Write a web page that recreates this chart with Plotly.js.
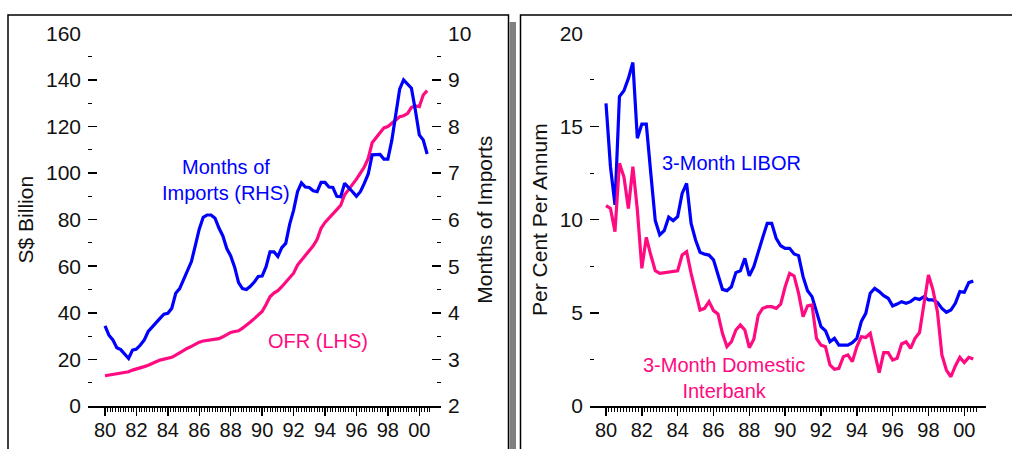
<!DOCTYPE html>
<html>
<head>
<meta charset="utf-8">
<script src="https://cdn.plot.ly/plotly-3.0.1.min.js"></script>
<style>
  html, body { margin: 0; padding: 0; background: #ffffff; }
  #chart { width: 1012px; height: 449px; }
</style>
</head>
<body>
<div id="chart"></div>
<script>
// ---- Data (quarterly) ----
const periods = [
  1980.00, 1980.25, 1980.50, 1980.75, 1981.00, 1981.25, 1981.50, 1981.75,
  1982.00, 1982.25, 1982.50, 1982.75, 1983.00, 1983.25, 1983.50, 1983.75,
  1984.00, 1984.25, 1984.50, 1984.75, 1985.00, 1985.25, 1985.50, 1985.75,
  1986.00, 1986.25, 1986.50, 1986.75, 1987.00, 1987.25, 1987.50, 1987.75,
  1988.00, 1988.25, 1988.50, 1988.75, 1989.00, 1989.25, 1989.50, 1989.75,
  1990.00, 1990.25, 1990.50, 1990.75, 1991.00, 1991.25, 1991.50, 1991.75,
  1992.00, 1992.25, 1992.50, 1992.75, 1993.00, 1993.25, 1993.50, 1993.75,
  1994.00, 1994.25, 1994.50, 1994.75, 1995.00, 1995.25, 1995.50, 1995.75,
  1996.00, 1996.25, 1996.50, 1996.75, 1997.00, 1997.25, 1997.50, 1997.75,
  1998.00, 1998.25, 1998.50, 1998.75, 1999.00, 1999.25, 1999.50, 1999.75,
  2000.00, 2000.25, 2000.50
];

// Official foreign reserves, S$ billion (LHS)
const ofr = [
  13.0, 13.3, 13.7, 14.0, 14.2, 14.5, 14.7, 15.4,
  15.8, 16.3, 16.9, 17.5, 18.4, 19.0, 19.7, 20.0,
  20.3, 20.9, 21.8, 22.9, 23.7, 24.8, 25.6, 26.5,
  27.4, 27.9, 28.1, 28.2, 28.4, 28.9, 29.7, 30.5,
  31.6, 32.0, 32.3, 33.4, 34.6, 36.1, 37.5, 38.9,
  40.6, 43.6, 46.9, 48.5, 49.5, 51.2, 53.1, 55.3,
  57.0, 60.5, 62.5, 64.3, 66.4, 68.8, 71.6, 76.3,
  78.8, 80.5, 82.5, 84.3, 86.2, 90.7, 92.9, 94.9,
  97.4, 100.0, 102.6, 106.3, 113.0, 115.2, 117.6, 119.4,
  120.0, 121.4, 123.0, 124.2, 124.6, 125.5, 128.2, 128.8,
  128.5, 133.5, 135.4
];

// Months of imports (RHS)
const monthsOfImports = [
  3.72, 3.52, 3.42, 3.25, 3.21, 3.12, 3.02, 3.20,
  3.22, 3.31, 3.42, 3.60, 3.70, 3.79, 3.88, 3.97,
  3.99, 4.10, 4.42, 4.52, 4.70, 4.90, 5.10, 5.45,
  5.80, 6.05, 6.10, 6.10, 6.03, 5.82, 5.65, 5.38,
  5.22, 4.98, 4.65, 4.52, 4.50, 4.57, 4.66, 4.78,
  4.79, 4.99, 5.31, 5.31, 5.21, 5.40, 5.49, 5.90,
  6.20, 6.60, 6.79, 6.70, 6.69, 6.62, 6.60, 6.80,
  6.80, 6.70, 6.69, 6.50, 6.49, 6.78, 6.70, 6.60,
  6.50, 6.60, 6.78, 6.98, 7.39, 7.40, 7.40, 7.30,
  7.30, 7.70, 8.25, 8.80, 9.00, 8.92, 8.82, 8.35,
  7.82, 7.71, 7.41
];

// 3-month LIBOR, per cent per annum
const libor = [
  16.24, 12.84, 10.79, 16.60, 16.92, 17.58, 18.43, 14.37,
  15.13, 15.13, 12.49, 9.95, 9.18, 9.41, 10.13, 9.95,
  10.16, 11.41, 11.95, 9.80, 8.91, 8.25, 8.15, 8.10,
  7.84, 7.03, 6.26, 6.19, 6.40, 7.16, 7.26, 7.92,
  6.98, 7.48, 8.34, 9.05, 9.80, 9.80, 9.00, 8.60,
  8.46, 8.46, 8.16, 8.07, 6.94, 6.19, 5.87, 5.06,
  4.26, 4.04, 3.45, 3.63, 3.27, 3.27, 3.27, 3.40,
  3.63, 4.53, 4.97, 6.05, 6.31, 6.14, 5.92, 5.78,
  5.37, 5.47, 5.60, 5.51, 5.60, 5.78, 5.72, 5.87,
  5.69, 5.69, 5.56, 5.24, 5.03, 5.15, 5.51, 6.14,
  6.10, 6.62, 6.71
];

// 3-month domestic interbank rate, per cent per annum
const interbank = [
  10.75, 10.60, 9.36, 13.02, 12.30, 10.60, 12.84, 10.52,
  7.39, 9.05, 8.10, 7.26, 7.12, 7.16, 7.18, 7.21,
  7.26, 8.10, 8.28, 7.12, 6.05, 5.15, 5.24, 5.60,
  5.12, 4.94, 3.90, 3.18, 3.45, 4.08, 4.35, 4.08,
  3.13, 3.58, 4.88, 5.24, 5.33, 5.33, 5.24, 5.47,
  6.40, 7.12, 6.98, 6.05, 4.79, 5.37, 5.42, 3.63,
  3.27, 3.18, 2.20, 1.97, 2.02, 2.65, 2.74, 2.38,
  3.18, 3.72, 3.68, 3.90, 2.83, 1.79, 2.86, 2.86,
  2.47, 2.56, 3.33, 3.45, 3.09, 3.63, 3.94, 5.51,
  7.03, 6.23, 5.06, 2.74, 1.93, 1.57, 2.15, 2.61,
  2.33, 2.61, 2.52
];

// Tick labels
const yearTickVals = [1980, 1982, 1984, 1986, 1988, 1990, 1992, 1994, 1996, 1998, 2000];
const yearTickText = ['80', '82', '84', '86', '88', '90', '92', '94', '96', '98', '00'];
const lhsTicks = [0, 20, 40, 60, 80, 100, 120, 140, 160];
const rhsTicks = [2, 3, 4, 5, 6, 7, 8, 9, 10];
const rateTicks = [0, 5, 10, 15, 20];

// ---- Styling ----
const BLUE = '#0000ff';
const PINK = '#ff0a80';
const FONT = 'Liberation Sans, Arial, sans-serif';
const TXT = '#111';
const W = 1012, H = 449;
const px = v => v / W;
const py = v => (H - v) / H;

// minor (bi-monthly) ticks along the time axis
const minorYears = [];
for (let k = 0; k <= 124; k++) minorYears.push(1980 + k / 6);

const yDomain = [py(406), py(33.3)];

const traces = [
  { x: periods, y: ofr, type: 'scatter', mode: 'lines', xaxis: 'x', yaxis: 'y',
    line: { color: PINK, width: 3.2 }, name: 'OFR (LHS)' },
  { x: periods, y: monthsOfImports, type: 'scatter', mode: 'lines', xaxis: 'x', yaxis: 'y2',
    line: { color: BLUE, width: 3.2 }, name: 'Months of Imports (RHS)' },
  { x: periods, y: libor, type: 'scatter', mode: 'lines', xaxis: 'x2', yaxis: 'y3',
    line: { color: BLUE, width: 3.2 }, name: '3-Month LIBOR' },
  { x: periods, y: interbank, type: 'scatter', mode: 'lines', xaxis: 'x2', yaxis: 'y3',
    line: { color: PINK, width: 3.2 }, name: '3-Month Domestic Interbank' }
];

function timeAxis(domain, range, anchor) {
  return {
    domain: domain, range: range, anchor: anchor,
    showline: true, linecolor: '#000', linewidth: 1.5,
    showgrid: false, zeroline: false,
    tickmode: 'array', tickvals: yearTickVals, ticktext: yearTickText,
    ticks: 'outside', ticklen: 8, tickwidth: 1.5, tickcolor: '#000',
    tickfont: { family: FONT, size: 20, color: TXT },
    ticklabelstandoff: -3,
    minor: { tickmode: 'array', tickvals: minorYears, ticks: 'outside', ticklen: 4,
             tickwidth: 1, tickcolor: '#000', showgrid: false },
    fixedrange: true
  };
}

function valueAxis(opts) {
  return Object.assign({
    domain: yDomain,
    showline: false, showgrid: false, zeroline: false,
    tickmode: 'array',
    ticks: 'inside', ticklen: 9, tickwidth: 1.5, tickcolor: '#000',
    tickfont: { family: FONT, size: 21, color: TXT },
    ticklabelstandoff: 6,
    automargin: false,
    fixedrange: true
  }, opts);
}

const titleFont = { family: FONT, size: 21, color: TXT };

const layout = {
  width: W, height: H,
  margin: { l: 0, r: 0, t: 0, b: 0, pad: 0 },
  paper_bgcolor: '#ffffff', plot_bgcolor: 'rgba(0,0,0,0)',
  showlegend: false,
  font: { family: FONT, size: 21, color: TXT },
  xaxis: timeAxis([px(88), px(441)], [1978.918, 2001.381], 'y'),
  yaxis: valueAxis({
    anchor: 'x', side: 'left', range: [0, 160], tickvals: lhsTicks,
    minor: { dtick: 10, ticks: 'inside', ticklen: 4, tickwidth: 1, tickcolor: '#000', showgrid: false },
    title: { text: 'S$ Billion', font: titleFont, standoff: 6 }
  }),
  yaxis2: valueAxis({
    anchor: 'x', overlaying: 'y', side: 'right', range: [2, 10], tickvals: rhsTicks,
    minor: { dtick: 0.5, ticks: 'inside', ticklen: 4, tickwidth: 1, tickcolor: '#000', showgrid: false },
    title: { text: 'Months of Imports', font: titleFont, standoff: 6 }
  }),
  xaxis2: timeAxis([px(590), px(986)], [1979.107, 2001.211], 'y3'),
  yaxis3: valueAxis({
    anchor: 'x2', side: 'left', range: [0, 20], tickvals: rateTicks,
    minor: { dtick: 2.5, ticks: 'inside', ticklen: 4, tickwidth: 1, tickcolor: '#000', showgrid: false },
    title: { text: 'Per Cent Per Annum', font: titleFont, standoff: 6 }
  }),
  shapes: [
    // left panel frame
    { type: 'rect', xref: 'paper', yref: 'paper', x0: px(8), x1: px(508.5), y0: -0.1, y1: py(15),
      line: { color: '#000', width: 1.5 }, fillcolor: 'rgba(0,0,0,0)', layer: 'below' },
    // drop shadow of left panel
    { type: 'rect', xref: 'paper', yref: 'paper', x0: px(509.5), x1: px(516), y0: -0.1, y1: py(22),
      line: { width: 0 }, fillcolor: '#808080', layer: 'below' },
    // right panel frame
    { type: 'rect', xref: 'paper', yref: 'paper', x0: px(520.5), x1: px(1020), y0: -0.1, y1: py(15),
      line: { color: '#000', width: 1.5 }, fillcolor: 'rgba(0,0,0,0)', layer: 'below' }
  ],
  annotations: [
    { xref: 'paper', yref: 'paper', x: px(226), y: py(180), xanchor: 'center', yanchor: 'middle',
      text: 'Months of<br>Imports (RHS)', showarrow: false,
      font: { family: FONT, size: 20, color: BLUE }, align: 'center' },
    { xref: 'paper', yref: 'paper', x: px(318), y: py(341), xanchor: 'center', yanchor: 'middle',
      text: 'OFR (LHS)', showarrow: false, font: { family: FONT, size: 20, color: PINK } },
    { xref: 'paper', yref: 'paper', x: px(731), y: py(163), xanchor: 'center', yanchor: 'middle',
      text: '3-Month LIBOR', showarrow: false, font: { family: FONT, size: 20, color: BLUE } },
    { xref: 'paper', yref: 'paper', x: px(724), y: py(378), xanchor: 'center', yanchor: 'middle',
      text: '3-Month Domestic<br>Interbank', showarrow: false,
      font: { family: FONT, size: 20, color: PINK }, align: 'center' }
  ]
};

Plotly.newPlot('chart', traces, layout, { displayModeBar: false, staticPlot: true });
</script>
</body>
</html>
